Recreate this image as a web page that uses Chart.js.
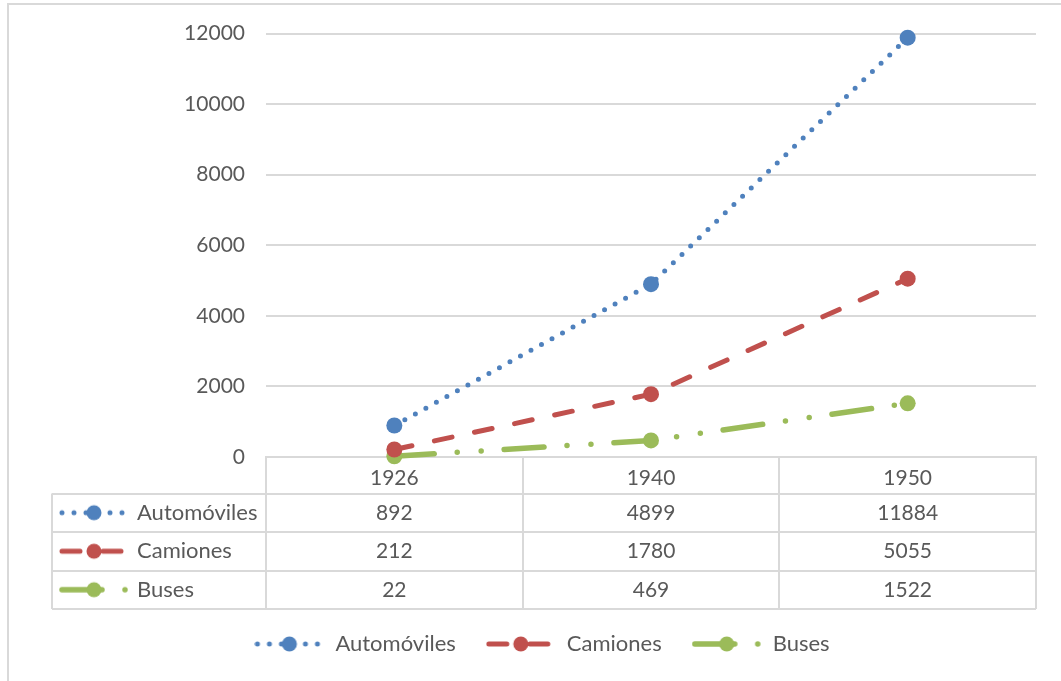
<!DOCTYPE html>
<html><head><meta charset="utf-8">
<script src="https://cdn.jsdelivr.net/npm/chart.js@4"></script>
<style>html,body{margin:0;padding:0;background:#fff}canvas{display:block}</style>
</head><body>
<canvas id="c" width="1061" height="681"></canvas>
<script>
const categories = ['1926', '1940', '1950'];
const seriesNames = ['Automóviles', 'Camiones', 'Buses'];
const automoviles = [892, 4899, 11884];
const camiones = [212, 1780, 5055];
const buses = [22, 469, 1522];
const yTickValues = [0, 2000, 4000, 6000, 8000, 10000, 12000];

const seriesValues = [automoviles, camiones, buses];
const colors = ['#4F81BD', '#C0504D', '#9BBB59'];
const dashes = [[0, 12], [18, 23], [40, 23, 0, 24, 0, 23]];
const widths = [5, 5, 5.5];
const FONT = 'Lato, "Open Sans", sans-serif';
const FS = 21;
const FS_WORDS = 22;
const TXT = '#595959';
const GRID = '#D9D9D9';

function makeIcon(i) {
  const c = document.createElement('canvas');
  c.width = 70; c.height = 18;
  const x = c.getContext('2d');
  x.strokeStyle = colors[i]; x.lineWidth = widths[i]; x.lineCap = 'round';
  x.setLineDash(dashes[i]);
  x.beginPath(); x.moveTo(3, 9); x.lineTo(67, 9); x.stroke();
  x.setLineDash([]);
  x.fillStyle = colors[i];
  x.beginPath(); x.arc(35, 9, 7.5, 0, Math.PI * 2); x.fill();
  return c;
}
const icons = [0, 1, 2].map(makeIcon);

const framePlugin = {
  id: 'frame',
  beforeDraw(chart) {
    const ctx = chart.ctx;
    ctx.save();
    ctx.strokeStyle = GRID; ctx.lineWidth = 2;
    ctx.beginPath();
    ctx.moveTo(8, chart.height + 5); ctx.lineTo(8, 4); ctx.lineTo(chart.width + 5, 4);
    ctx.stroke();
    ctx.restore();
  }
};

const tablePlugin = {
  id: 'dataTable',
  afterDraw(chart) {
    const { ctx, chartArea } = chart;
    const x = chart.scales.x;
    const left = 52, right = chartArea.right;
    const top = chartArea.bottom;
    const headerH = 36.5, rowH = 38.5;
    const half = (x.getPixelForValue(1) - x.getPixelForValue(0)) / 2;
    const bounds = [x.getPixelForValue(0) - half];
    categories.forEach((c, i) => bounds.push(x.getPixelForValue(i) + half));
    const bottom = top + headerH + rowH * seriesNames.length;
    ctx.save();
    ctx.strokeStyle = GRID; ctx.lineWidth = 2;
    ctx.beginPath();
    for (let r = 0; r <= seriesNames.length; r++) {
      const y = Math.round(top + headerH + r * rowH);
      ctx.moveTo(left, y); ctx.lineTo(right, y);
    }
    ctx.moveTo(left, top + headerH); ctx.lineTo(left, bottom);
    bounds.forEach(b => { ctx.moveTo(Math.round(b), top); ctx.lineTo(Math.round(b), bottom); });
    ctx.stroke();
    ctx.fillStyle = TXT;
    ctx.textBaseline = 'middle';
    seriesNames.forEach((name, r) => {
      const cy = top + headerH + r * rowH + rowH / 2;
      ctx.drawImage(icons[r], 59, cy - 9);
      ctx.font = FS_WORDS + 'px ' + FONT;
      ctx.textAlign = 'left';
      ctx.fillText(name, 137, cy);
      ctx.font = FS + 'px ' + FONT;
      ctx.textAlign = 'center';
      seriesValues[r].forEach((v, i) => {
        ctx.fillText(String(v), x.getPixelForValue(i), cy);
      });
    });
    ctx.restore();
  }
};

new Chart(document.getElementById('c'), {
  type: 'line',
  data: {
    labels: categories,
    datasets: seriesNames.map((name, i) => ({
      label: name,
      data: seriesValues[i],
      borderColor: colors[i],
      backgroundColor: colors[i],
      borderWidth: widths[i],
      borderDash: dashes[i],
      borderCapStyle: 'round',
      tension: 0,
      pointRadius: 8,
      pointHoverRadius: 8,
      pointBorderWidth: 0,
      pointBackgroundColor: colors[i],
      clip: false
    }))
  },
  options: {
    responsive: false,
    animation: false,
    layout: { padding: { left: 48, right: 25, top: 31, bottom: 16 } },
    scales: {
      x: {
        type: 'category',
        offset: true,
        grid: { display: false },
        border: { display: true, color: GRID, width: 2 },
        ticks: { color: TXT, font: { family: FONT, size: FS }, padding: 1, maxRotation: 0 },
        afterFit(scale) { scale.height = 146; }
      },
      y: {
        min: 0, max: 12000,
        afterBuildTicks(scale) { scale.ticks = yTickValues.map(v => ({ value: v })); },
        grid: { color: GRID, lineWidth: 2, drawTicks: false },
        border: { display: false },
        ticks: { color: TXT, font: { family: FONT, size: FS }, padding: 21, callback: v => String(v) },
        afterFit(scale) { scale.width = 218; }
      }
    },
    plugins: {
      tooltip: { enabled: false },
      legend: {
        position: 'bottom',
        labels: {
          usePointStyle: true,
          pointStyleWidth: 70,
          padding: 30,
          color: TXT,
          font: { family: FONT, size: FS_WORDS },
          generateLabels(chart) {
            const items = Chart.defaults.plugins.legend.labels.generateLabels(chart);
            items.forEach((it, i) => { it.pointStyle = icons[i]; it.fontColor = TXT; });
            return items;
          }
        }
      }
    }
  },
  plugins: [framePlugin, tablePlugin]
});
</script>
</body></html>
